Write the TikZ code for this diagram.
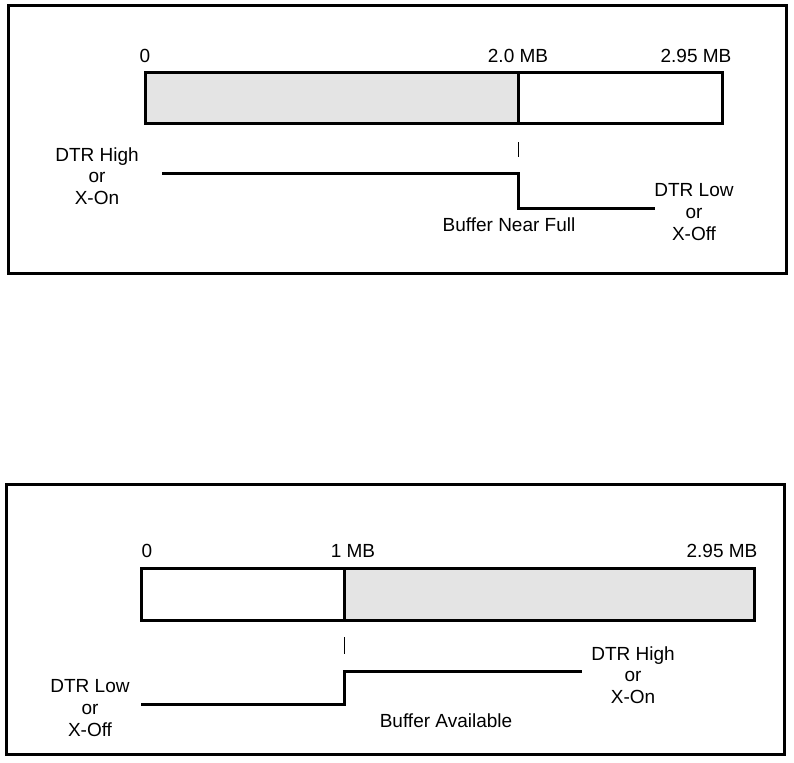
\documentclass[tikz,border=0pt]{standalone}
\usepackage{fontspec}
\setmainfont{Liberation Sans}
\definecolor{bufgray}{RGB}{228,228,228}

\begin{document}
\begin{tikzpicture}[x=0.5pt,y=-0.5pt,frame/.style={draw, line width=1.5pt},bar/.style={draw, line width=1.5pt},signal/.style={line width=1.5pt},tick/.style={line width=0.5pt},label/.style={font=\fontsize{9.5}{10.8}\selectfont, inner sep=0pt},group/.style={label, align=center}]
\useasboundingbox (0,0) rectangle (794,762);
% upper panel: buffer filling up
\draw[frame] (8,5) rectangle (786,273);
\coordinate (A0) at (145,72); \coordinate (A1) at (518,123); \coordinate (A2) at (722,72);
\filldraw[bar, fill=bufgray] (A0) rectangle (A1); \draw[bar] (A1) rectangle (A2);
\node[label, anchor=base] (zeroA) at (145,62) {0}; \node[label, anchor=base] (twoA) at (518,62) {2.0 MB}; \node[label, anchor=base] (endA) at (696,62) {2.95 MB};
\coordinate (tickA) at (518,142); \coordinate (tickAe) at (518,157);
\draw[tick] (tickA) -- (tickAe);
\coordinate (hiA) at (162,173); \coordinate (dropA) at (518,173); \coordinate (stepA) at (518,208); \coordinate (loA) at (655,208);
\draw[signal] (hiA) -- (dropA) -- (stepA) -- (loA);
\node[group] (onA) at (97,176) {DTR High\\or\\X-On};
\node[label, anchor=base] (fullA) at (509,231) {Buffer Near Full};
\node[group] (offA) at (694,212) {DTR Low\\or\\X-Off};
% lower panel: buffer draining
\draw[frame] (6,484) rectangle (784,754);
\coordinate (B0) at (141,568); \coordinate (B1) at (344,620); \coordinate (B2) at (754,568);
\draw[bar] (B0) rectangle (B1); \filldraw[bar, fill=bufgray] (B1) rectangle (B2);
\node[label, anchor=base] (zeroB) at (147,557) {0}; \node[label, anchor=base] (oneB) at (353,557) {1 MB}; \node[label, anchor=base] (endB) at (722,557) {2.95 MB};
\coordinate (tickB) at (344,637); \coordinate (tickBe) at (344,654);
\draw[tick] (tickB) -- (tickBe);
\coordinate (loB) at (141,704); \coordinate (riseB) at (344,704); \coordinate (stepB) at (344,671); \coordinate (hiB) at (582,671);
\draw[signal] (loB) -- (riseB) -- (stepB) -- (hiB);
\node[group] (offB) at (90,708) {DTR Low\\or\\X-Off};
\node[label, anchor=base] (availB) at (446,727) {Buffer Available};
\node[group] (onB) at (633,675) {DTR High\\or\\X-On};
\end{tikzpicture}
\end{document}
